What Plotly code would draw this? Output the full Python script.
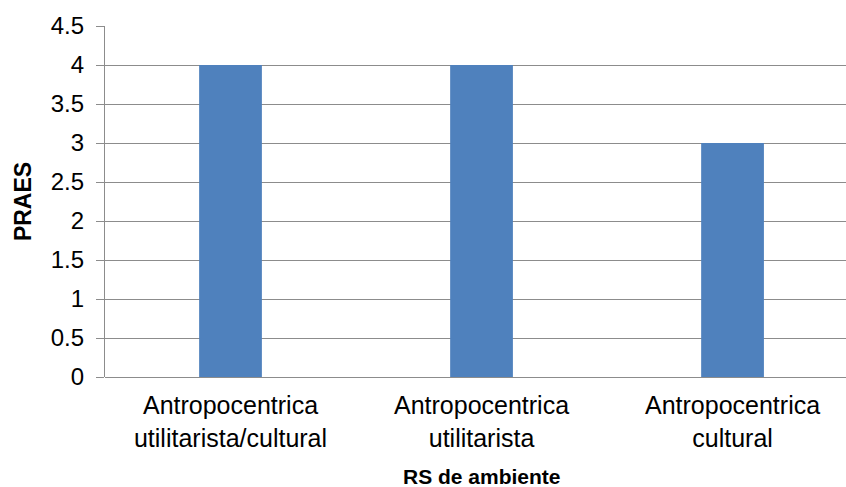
import plotly.graph_objects as go

categories = ["Antropocentrica<br>utilitarista/cultural",
              "Antropocentrica<br>utilitarista",
              "Antropocentrica<br>cultural"]
praes = [4, 4, 3]
y_ticks = [0, 0.5, 1, 1.5, 2, 2.5, 3, 3.5, 4, 4.5]
y_tick_text = ["0", "0.5", "1", "1.5", "2", "2.5", "3", "3.5", "4", "4.5"]

bar_color = "#4F81BD"
grid_color = "#8C8C8C"
font_family = "Liberation Sans, Arial, sans-serif"

fig = go.Figure(
    go.Bar(
        x=[0, 1, 2],
        y=praes,
        marker=dict(color=bar_color, line=dict(width=0)),
        width=0.25,
    )
)

fig.update_layout(
    width=846,
    height=487,
    margin=dict(l=105, r=0, t=26, b=110),
    paper_bgcolor="white",
    plot_bgcolor="white",
    showlegend=False,
    font=dict(family=font_family, color="black", size=23),
)

fig.update_xaxes(
    range=[-0.5, 2.452],
    tickmode="array",
    tickvals=[0, 1, 2],
    ticktext=categories,
    tickfont=dict(size=25),
    showgrid=False,
    showline=False,
    zeroline=False,
    ticks="",
    ticklabelstandoff=11,
)

fig.update_yaxes(
    range=[0, 4.5],
    tickmode="array",
    tickvals=y_ticks,
    ticktext=y_tick_text,
    tickfont=dict(size=24),
    ticklabelstandoff=7,
    showgrid=True,
    gridcolor=grid_color,
    gridwidth=1.3,
    showline=True,
    linecolor=grid_color,
    linewidth=1.3,
    zeroline=True,
    zerolinecolor=grid_color,
    zerolinewidth=1.3,
    ticks="outside",
    ticklen=8,
    tickcolor=grid_color,
    tickwidth=1.3,
    title=dict(text="<b>PRAES</b>", font=dict(size=23), standoff=12),
)

# x-axis title centred under the middle category
fig.add_annotation(
    text="<b>RS de ambiente</b>",
    xref="x", x=1,
    yref="paper", y=0,
    yshift=-99,
    showarrow=False,
    font=dict(size=21),
    yanchor="middle",
)

fig.write_html("out.html")
